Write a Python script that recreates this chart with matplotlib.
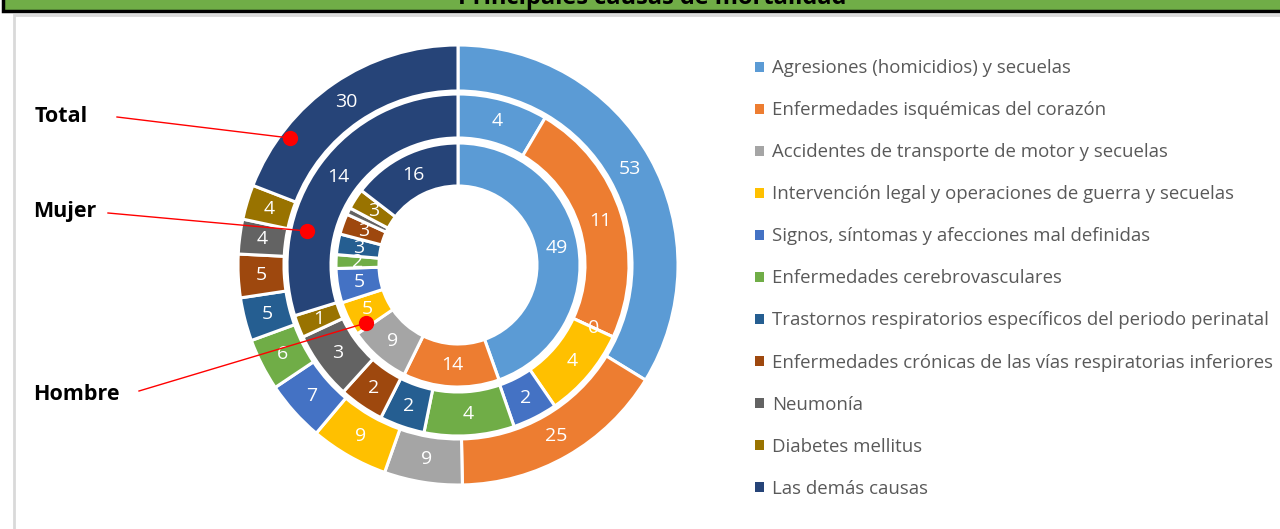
import numpy as np
import matplotlib.pyplot as plt
from matplotlib.patches import Rectangle

causas = ['Agresiones (homicidios) y secuelas',
          'Enfermedades isquémicas del corazón',
          'Accidentes de transporte de motor y secuelas',
          'Intervención legal y operaciones de guerra y secuelas',
          'Signos, síntomas y afecciones mal definidas',
          'Enfermedades cerebrovasculares',
          'Trastornos respiratorios específicos del periodo perinatal',
          'Enfermedades crónicas de las vías respiratorias inferiores',
          'Neumonía',
          'Diabetes mellitus',
          'Las demás causas']
total = [53, 25, 9, 9, 7, 6, 5, 5, 4, 4, 30]
mujer = [4, 11, 0, 4, 2, 4, 2, 2, 3, 1, 14]
hombre = [49, 14, 9, 5, 5, 2, 3, 3, 1, 3, 16]
colores = ['#5B9BD5', '#ED7D31', '#A5A5A5', '#FFC000', '#4472C4', '#70AD47',
           '#255E91', '#9E480E', '#636363', '#997300', '#264478']

fig = plt.figure(figsize=(12.8, 5.29), dpi=100)
fig.patch.set_facecolor('white')

# marco de fondo (barra de titulo y panel)
bg = fig.add_axes([0, 0, 1, 1])
bg.set_xlim(0, 1280)
bg.set_ylim(529, 0)
bg.axis('off')
bg.set_zorder(0)
bg.add_patch(Rectangle((3, -20), 1300, 31, facecolor='#70AD47', edgecolor='black', lw=2.5))
bg.add_patch(Rectangle((14, 15), 1300, 600, facecolor='white', edgecolor='#D9D9D9', lw=2))
bg.text(652, 4, 'Principales causas de mortalidad', ha='center', va='baseline',
        fontsize=17, fontweight='bold', family='Open Sans', color='black')

ax = fig.add_axes([228 / 1280, (529 - 495) / 529, 460 / 1280, 460 / 529])
ax.set_zorder(1)

anillos = [(total, 1.10, 0.23, True), (mujer, 0.855, 0.22, True), (hombre, 0.61, 0.215, False)]
wedges_total = None
for valores, radio, ancho, mostrar_uno in anillos:
    ws, _ = ax.pie(valores, radius=radio, colors=colores, startangle=90, counterclock=False,
                   wedgeprops=dict(width=ancho, edgecolor='white', linewidth=2.2))
    if wedges_total is None:
        wedges_total = ws
    r_lab = radio - ancho / 2
    for w, v in zip(ws, valores):
        if v == 1 and not mostrar_uno:
            continue
        ang = np.deg2rad((w.theta1 + w.theta2) / 2)
        ax.text(r_lab * np.cos(ang), r_lab * np.sin(ang), str(v), ha='center', va='center',
                color='white', fontsize=14, family='Open Sans')
ax.set_xlim(-1.15, 1.15)
ax.set_ylim(-1.15, 1.15)
ax.axis('off')

# etiquetas de los anillos
over = fig.add_axes([0, 0, 1, 1])
over.set_xlim(0, 1280)
over.set_ylim(529, 0)
over.axis('off')
over.set_zorder(2)
for txt, tx, ty, x0, y0, x1, y1 in [('Total', 35, 117, 117, 117, 290, 138),
                                    ('Mujer', 33, 211, 108, 213, 307, 231),
                                    ('Hombre', 33, 394, 139, 391, 366, 323)]:
    over.text(tx, ty, txt, ha='left', va='center', fontsize=15.5, fontweight='bold',
              family='Open Sans', color='black')
    over.plot([x0, x1], [y0, y1], color='red', lw=1)
    over.plot(x1, y1, 'o', color='red', ms=10)

leg = fig.legend(wedges_total, causas, loc='upper left', bbox_to_anchor=(748 / 1280, 1 - 52 / 529),
                 frameon=False, fontsize=13.4, handlelength=0.45, handleheight=0.45,
                 handletextpad=0.45, labelspacing=1.29, borderaxespad=0)
for t in leg.get_texts():
    t.set_color('#595959')
    t.set_family('Open Sans')
for h in leg.legend_handles:
    h.set_edgecolor('none')

fig.savefig('out.png', dpi=100)
